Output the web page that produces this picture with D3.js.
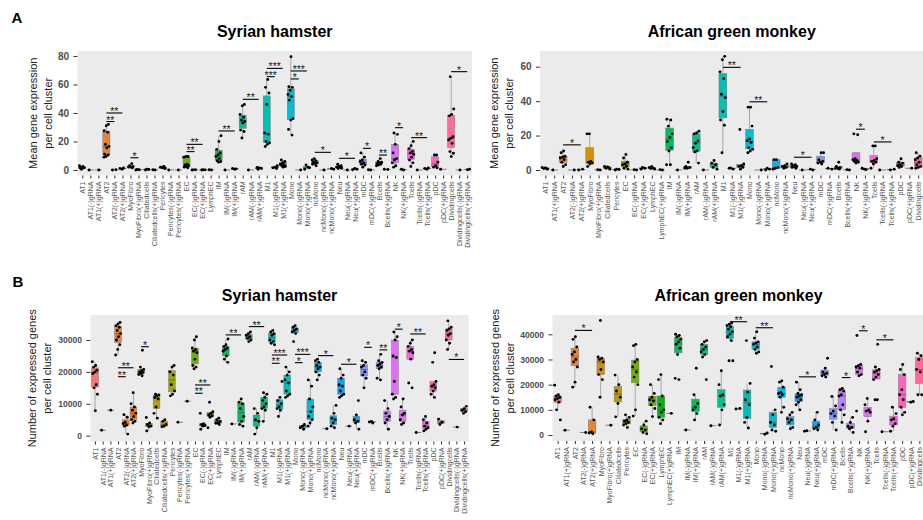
<!DOCTYPE html>
<html><head><meta charset="utf-8">
<script src="https://cdn.jsdelivr.net/npm/d3@7"></script>
<style>body{margin:0;background:#fff;} svg{display:block;font-family:"Liberation Sans",Arial,sans-serif;}</style>
</head><body><svg id="c" width="923" height="520"></svg>
<script>
// ---------------- DATA ----------------
const hamsterCats = ["AT1","AT1(-)gRNA","AT1(+)gRNA","AT2","AT2(-)gRNA","AT2(+)gRNA","MyoFibro","MyoFibro(+)gRNA","Ciliatedcells","Ciliatedcells(+)gRNA","Pericytes","Pericytes(-)gRNA","Pericytes(+)gRNA","EC","EC(-)gRNA","EC(+)gRNA","LymphEC","IM","IM(-)gRNA","IM(+)gRNA","rAM","rAM(-)gRNA","rAM(+)gRNA","M1","M1(-)gRNA","M1(+)gRNA","Mono","Mono(-)gRNA","Mono(+)gRNA","ncMono","ncMono(-)gRNA","ncMono(+)gRNA","Neu","Neu(-)gRNA","Neu(+)gRNA","mDC","mDC(+)gRNA","Bcells","Bcells(+)gRNA","NK","NK(+)gRNA","Tcells","Tcells(-)gRNA","Tcells(+)gRNA","pDC","pDC(+)gRNA","Dividingcells","Dividingcells(-)gRNA","Dividingcells(+)gRNA"];
const monkeyCats = ["AT1","AT1(+)gRNA","AT2","AT2(-)gRNA","AT2(+)gRNA","MyoFibro","MyoFibro(+)gRNA","Ciliatedcells","Pericytes","EC","EC(-)gRNA","EC(+)gRNA","LymphEC","LymphEC(+)gRNA","IM","IM(-)gRNA","IM(+)gRNA","rAM","rAM(-)gRNA","rAM(+)gRNA","M1","M1(-)gRNA","M1(+)gRNA","Mono","Mono(-)gRNA","Mono(+)gRNA","ncMono","ncMono(+)gRNA","Neu","Neu(-)gRNA","Neu(+)gRNA","mDC","mDC(+)gRNA","Bcells","Bcells(+)gRNA","NK","NK(+)gRNA","Tcells","Tcells(-)gRNA","Tcells(+)gRNA","pDC","pDC(+)gRNA","Dividingcells"];
const cellTypes = ["AT1","AT2","MyoFibro","Ciliatedcells","Pericytes","EC","LymphEC","IM","rAM","M1","Mono","ncMono","Neu","mDC","Bcells","NK","Tcells","pDC","Dividingcells"];

// Panel A: mean gene expression per cell cluster
const hamsterExpr = [
 [3,2.5,2,1.5,1,1.5,2,0.5],[0],[0],
 [32,31,27.5,26.5,18,16.5,15.5,11,10.5,9.5,9],[0,0.2],[0.5,1,1.5],
 [4.5,3,2.5,2,2,1.5],[0,0.2,0.4],[0,0.3,0.5],[0,0.2],
 [1,1.5,2,2.5,2,1.2],[0],[0],
 [9.5,9.5,9,4,3.5,3,2.5,2,1.5],[0,0.2,0.1],[0,0.1,0.2],[0,0.2],
 [24,20,14.5,12,10.5,9.5,8,6.5,6,5.5],[0],[0.5,1,0.8],
 [46,45,39,37,35,34,33,28,27,22.5],[0],[0.5,1,1.5,1.8],
 [63.5,58,54,46,26,25,20,19,18,16.5],[3,2,1.5,1],[7,6,5,4,3.5,3,2.5,2],
 [79.5,58.5,58,56,53,51.5,49,36,35,28.5,24.5],[0],[0.5,2,3.5,1.5],
 [8,7,6.5,5.5,5,4.5,4,3],[0],[0.5,1],
 [4,3,2.5,2,1.5,1,1.2],[0],[0.5,1,0.2],
 [12,9,7,6,5,4,3.5,2],[0,0.2],
 [8,6,5.5,5,4.5,4,3.5,3],[0.5,0.3],
 [26,25,18,12,8,7,5,3,2],[0,0.5],
 [20,17,15,13,12,11,9,7,5,2.5],[0],[0.5,1,1.5],
 [10.5,10.5,5.5,3,2,1.5],[0.5],
 [65.5,42.8,39,38,23.4,22.2,21,18.7,12.9,11.7,9.4],[0],[0.5,0.2]
];
const monkeyExpr = [
 [1.5,1,0.8,0.5,1.2],[0],
 [11,10,8,7.5,7,6,4.5,3,2],[0],[0,0.5],
 [21,21,5,4.5,4,3.5,2],[0,0.1],[2,1.5,1,0.5,1.8],[0,0.3,0.5],
 [9,7,4.5,3.5,3,2,1,0.5],[0,0.2],[0.5,1,1.5],[2,1.5,1,0.8,0.5],[0,0.2],
 [29.5,29,25.5,21,19,16.5,13,11,3,3],[0],[4.5,2,1.5,1,1],
 [22.5,21.5,21,17,15.5,13,11,10.5,4],[0],[5.5,4,3,1.5,0.5],
 [66,64,57,53,44,42,34,29,26,10],[1,0.5,1.2],[23.5,3.5,2.5,2,1.5,0.5],
 [36.5,36.5,25.5,18,17,16,13,12,11,10],[0],[0,0.5,1],
 [6,6,1.5,1,0.5],[3.5,2.5,2,1.5,1],
 [3.5,3,2.5,2,2,1.5,1],[0],[0,0.5],
 [10,10,6,5,4.5,4,3.5],[1,0.5],
 [4.5,2,1.5,1,0.8,0.5],[0,0.2],
 [21,20.5,6.5,6,5.5,5,4.5,4],[0.5,1,0.2],
 [14,14,6.5,5.5,5,4.5,3.5,1],[0],[0,0.5],
 [6.5,4.5,4,3,2.5,2,1.5],[1],
 [10,8,7,6,4.5,3,2,1.5,1]
];
// Panel B: number of expressed genes per cell cluster
const hamsterGenes = [
 [23200,22000,21500,20500,20000,19500,16000,15000,13000,7800],[1700],[8000],
 [35500,35000,34500,34000,33000,32000,31000,30000,28500,27000,25300],[6600,5800,4200,3800,3300,3000,500],[13500,10000,9000,8000,7000,6000,5000,4500,4000],
 [26800,21500,20800,20400,20000,19800,19500,19200,18800],[5700,4000,3500,3000,2800,1500],
 [13000,12800,12500,12000,11500,9000,7000,5500],[5000,4500,3500,3000,2800],
 [22000,21500,20000,19000,16000,14000,13000,12500],[4200],[10800],
 [31000,30000,27500,27000,26500,26000,24000,22000,21500,21000],[7000,3800,3500,3200,3000,2000],[10500,7500,7000,6500,6200,5800,2500],[5500,5000,4500,4000,3900,3500],
 [30300,28500,28000,27500,27000,26500,25000,24000,23000],[3700],[11500,10500,10000,8500,6000,4500,3500,3000],
 [32500,32000,31500,31000,30500,30000,29500],[8500,7000,5000,4500,2500,500],[13500,13000,12000,11000,10000,9000,8500,8000,4500],
 [33000,32500,32000,31500,30000,29500,29000,28500],[17000,12000,11000,10000,9000,8500,8000,6000],[21500,20000,19000,17500,16500,14000,13000,12500,12000],
 [34500,34000,33500,33000,32500,32000,29500],[3500,3000,2500,2000],[17500,15500,11500,9000,7500,6000,5000,4000,3000],
 [24000,23500,23000,22000,21500,21000,20000,19000,17500],[2200],[9500,7000,5500,5000,4000,3000,2500],
 [21000,19000,18000,16000,15500,14000,13000,12500,12000],[3000],[11000,6500,5000,4500,4000,2000],
 [23500,23000,22000,21500,20000,19000,18000,15000],[4500,4300,4000],
 [25500,23500,23000,22500,22000,21500,21000,18000,17500],[11000,8500,7000,6000,5000,4000,2000],
 [32500,31000,30000,25000,24500,17000,13000,12000,11500],[11500,9000,7000,6500,5000,4000,3500],
 [30000,29000,28000,27000,26500,26000,24000,16500,15000],[1000],[6000,5000,4000,3000,2500,2000,1500],
 [26000,23000,17000,16000,15500,15000,14000,13000,12000],[5200,4200,3500],
 [36000,34000,33500,33000,32000,31500,30000,29000,27000],[2700],[9200,8500,8000,7500,7000]
];
const monkeyGenes = [
 [19800,16000,15500,15000,14500,14000,13000,10000,6000],[1900],
 [39000,38000,35000,33000,32000,30000,29000,27000,21000,19000],[1000],[11000,6000,1200,800,500],
 [45500,31000,30500,30000,29000,26000,24000,22000,15000],[3900],[23800,20000,17500,15000,12500,7200],[8000,7000,6000,5500,5000,4500,4000,3000],
 [36000,35500,30000,29000,27000,25000,23000,20000,10000,7500],[5500,4000,2500,2000,1000,500],[20000,16500,15000,14000,13500,12000,10500,7300],
 [24000,22000,15500,12000,10000,9000,7000,6000,4500],[8600],
 [40000,39500,39000,38000,37000,36000,34500,32000,22500,22000],[2000],[26500,16000,12500,11000,10000,8500,6000],
 [37500,37000,36000,35000,34000,33000,32000,31000,22000],[3700],[25500,20000,16000,15500,12000,10000,4000],
 [44500,44000,43500,43000,42000,41000,40000,39000,37500,29500,29500],[10300,10500],[37500,20500,17000,14000,12000,7000,5000,2800],
 [41000,38500,37000,36500,36000,35000,34000,33000,32500],[800,300],[27200,10000,8000,5000,4000,2000,1500],
 [21500,21000,19000,17000,16500,16000,15000,11000,9000],[9000,8000,6500,6000,5000,3000,2500],
 [21000,18000,16500,16000,15500,15000,14000,13000,12000,10000],[1700,1500],[9000,6000,4000,3000,2500,2000],
 [30500,26500,25000,24500,24000,23500,23000],[15300,11500,9500,8500,7500,5000,2000],
 [18500,18000,17500,16000,15500,12000,10000,8000,5000],[7000,5000,3500,3000,2500,1000],
 [39500,28000,27500,27000,26500,25000,24000,23500,9500],[14500,12000,10000,9500,9000,5500,1300],
 [36000,27000,26000,25500,25000,24000,23000,22000,14000,14000],[1300],[11000,8500,6500,6000,4500,3500,1500],
 [28000,26000,24000,18000,16000,14000,11000,9000,8000],[13300,13000],
 [32500,31500,30000,26000,25000,16000,16000]
];
// significance brackets: [group1, group2, height, label]
const hamsterExprSig = [
 ["AT2","AT2(-)gRNA",34,"**"],["AT2","AT2(+)gRNA",40,"**"],["MyoFibro","MyoFibro(+)gRNA",8.6,"*"],
 ["EC","EC(-)gRNA",12.9,"**"],["EC","EC(+)gRNA",18,"**"],["IM","IM(+)gRNA",27.4,"**"],
 ["rAM","rAM(+)gRNA",49.6,"**"],["M1","M1(-)gRNA",65.5,"***"],["M1","M1(+)gRNA",71.3,"***"],
 ["Mono","Mono(-)gRNA",63.9,"*"],["Mono","Mono(+)gRNA",69.5,"***"],["ncMono","ncMono(+)gRNA",12.4,"*"],
 ["Neu","Neu(+)gRNA",8.2,"*"],["mDC","mDC(+)gRNA",15.2,"*"],["Bcells","Bcells(+)gRNA",10.5,"**"],
 ["NK","NK(+)gRNA",29.7,"*"],["Tcells","Tcells(+)gRNA",22.7,"**"],["Dividingcells","Dividingcells(+)gRNA",69,"*"]
];
const monkeyExprSig = [
 ["AT2","AT2(+)gRNA",14.6,"*"],["M1","M1(+)gRNA",59.6,"**"],["Mono","Mono(+)gRNA",39.6,"**"],
 ["Neu","Neu(+)gRNA",7.4,"*"],["NK","NK(+)gRNA",23.7,"*"],["Tcells","Tcells(+)gRNA",16.3,"*"]
];
const hamsterGenesSig = [
 ["AT2","AT2(-)gRNA",18500,"**"],["AT2","AT2(+)gRNA",21300,"**"],["MyoFibro","MyoFibro(+)gRNA",27900,"*"],
 ["EC","EC(-)gRNA",13300,"**"],["EC","EC(+)gRNA",15900,"**"],["IM","IM(+)gRNA",31600,"**"],
 ["rAM","rAM(+)gRNA",34200,"**"],["M1","M1(-)gRNA",22700,"**"],["M1","M1(+)gRNA",25300,"***"],
 ["Mono","Mono(-)gRNA",22900,"*"],["Mono","Mono(+)gRNA",25500,"***"],["ncMono","ncMono(+)gRNA",25100,"*"],
 ["Neu","Neu(+)gRNA",22400,"*"],["mDC","mDC(+)gRNA",27700,"*"],["Bcells","Bcells(+)gRNA",26900,"**"],
 ["NK","NK(+)gRNA",33400,"*"],["Tcells","Tcells(+)gRNA",31900,"**"],["Dividingcells","Dividingcells(+)gRNA",23900,"*"]
];
const monkeyGenesSig = [
 ["AT2","AT2(+)gRNA",41550,"*"],["M1","M1(+)gRNA",45000,"**"],["Mono","Mono(+)gRNA",42600,"**"],
 ["Neu","Neu(+)gRNA",23100,"*"],["Bcells","Bcells(+)gRNA",22800,"*"],["NK","NK(+)gRNA",41400,"*"],
 ["Tcells","Tcells(+)gRNA",37800,"*"]
];
const exprTicksHamster = [0,20,40,60,80];
const exprTicksMonkey = [0,20,40,60];
const genesTicksHamster = [0,10000,20000,30000];
const genesTicksMonkey = [0,10000,20000,30000,40000];
const panelTitles = ["Syrian hamster","African green monkey"];
const exprYTitle = ["Mean gene expression","per cell cluster"];
const genesYTitle = ["Number of expressed genes","per cell cluster"];

// ---------------- COLORS (ggplot hue palette, polar LUV) ----------------
function hueColor(h, c = 100, l = 65) {
  const hr = h * Math.PI / 180, U = c * Math.cos(hr), V = c * Math.sin(hr);
  const Y = Math.pow((l + 16) / 116, 3);
  const Xn = 0.95047, Yn = 1, Zn = 1.08883, den = Xn + 15 * Yn + 3 * Zn;
  const un = 4 * Xn / den, vn = 9 * Yn / den;
  const u = U / (13 * l) + un, v = V / (13 * l) + vn;
  const X = Y * 9 * u / (4 * v), Z = Y * (12 - 3 * u - 20 * v) / (4 * v);
  const lin = [3.2404542 * X - 1.5371385 * Y - 0.4985314 * Z,
    -0.9692660 * X + 1.8760108 * Y + 0.0415560 * Z,
    0.0556434 * X - 0.2040259 * Y + 1.0572252 * Z];
  const g = lin.map(x => { const s = x <= 0.0031308 ? 12.92 * x : 1.055 * Math.pow(x, 1 / 2.4) - 0.055; return Math.round(255 * Math.max(0, Math.min(1, s))); });
  return d3.rgb(g[0], g[1], g[2]).formatHex();
}
const colorScale = d3.scaleOrdinal().domain(cellTypes)
  .range(cellTypes.map((t, i) => hueColor(15 + i * 360 / cellTypes.length)));
const baseOf = c => c.replace(/\([+-]\)gRNA$/, "");

// ---------------- DRAW ----------------
const svg = d3.select("#c");

function panel(p) {
  const g = svg.append("g");
  g.append("rect").attr("x", p.x0).attr("y", p.yTop).attr("width", p.x1 - p.x0).attr("height", p.yBottom - p.yTop).attr("fill", "#EBEBEB");
  const x = d3.scalePoint().domain(p.cats).range([p.x0, p.x1]).padding(0.6);
  const y = d3.scaleLinear().domain(p.yDomain).range([p.yBottom, p.yTop]);
  const step = x.step(), bw = step * 0.88;

  // y axis
  const ya = g.append("g").attr("transform", `translate(${p.x0},0)`)
    .call(d3.axisLeft(y).tickValues(p.ticks).tickSize(4).tickPadding(4.5).tickFormat(d3.format("d")));
  ya.select(".domain").remove();
  ya.selectAll("line").attr("stroke", "#333");
  ya.selectAll("text").attr("fill", "#4d4d4d").style("font-size", p.tickFont + "px").style("font-weight", "bold").style("font-family", "'Liberation Sans',Arial,sans-serif");

  // x axis
  const xa = g.append("g").attr("transform", `translate(0,${p.yBottom})`)
    .call(d3.axisBottom(x).tickSize(3).tickPadding(3));
  xa.select(".domain").remove();
  xa.selectAll("line").attr("stroke", "#333");
  xa.selectAll("text").attr("fill", "#555").style("font-size", "7px").style("font-family", "'Liberation Sans',Arial,sans-serif")
    .attr("transform", "rotate(-90)").attr("x", -6).attr("y", 0).attr("dy", "0.33em").style("text-anchor", "end");

  // boxes
  p.cats.forEach((cat, i) => {
    const vals = p.values[i].slice().sort(d3.ascending);
    const cx = x(cat), col = colorScale(baseOf(cat));
    const q1 = d3.quantile(vals, 0.25), md = d3.quantile(vals, 0.5), q3 = d3.quantile(vals, 0.75);
    const iqr = q3 - q1;
    const lo = d3.min(vals.filter(v => v >= q1 - 1.5 * iqr)), hi = d3.max(vals.filter(v => v <= q3 + 1.5 * iqr));
    g.append("line").attr("x1", cx).attr("x2", cx).attr("y1", y(hi)).attr("y2", y(q3)).attr("stroke", "#8a8a8a").attr("stroke-width", 0.7);
    g.append("line").attr("x1", cx).attr("x2", cx).attr("y1", y(q1)).attr("y2", y(lo)).attr("stroke", "#8a8a8a").attr("stroke-width", 0.7);
    if (y(q1) - y(q3) > 0.3) {
      g.append("rect").attr("x", cx - bw / 2).attr("y", y(q3)).attr("width", bw).attr("height", y(q1) - y(q3))
        .attr("fill", col).attr("stroke", "#7a7a7a").attr("stroke-width", 0.5);
    }
    g.append("line").attr("x1", cx - bw / 2).attr("x2", cx + bw / 2).attr("y1", y(md)).attr("y2", y(md)).attr("stroke", "#555").attr("stroke-width", 0.7);
    // jittered points (deterministic spread)
    p.values[i].forEach((v, k) => {
      const off = (((k * 0.618034 + i * 0.29) % 1) - 0.5) * step * 0.7;
      g.append("circle").attr("cx", cx + off).attr("cy", y(v)).attr("r", 1.45).attr("fill", "#000");
    });
  });

  // significance
  p.sig.forEach(([a, b, h, lab]) => {
    const yy = y(h);
    g.append("line").attr("x1", x(a)).attr("x2", x(b)).attr("y1", yy).attr("y2", yy).attr("stroke", "#000").attr("stroke-width", 1.1);
    g.append("text").attr("x", (x(a) + x(b)) / 2).attr("y", yy + 2).attr("text-anchor", "middle")
      .style("font-size", "10.5px").attr("fill", "#222").text(lab);
  });

  // titles
  svg.append("text").attr("x", (p.x0 + p.x1) / 2).attr("y", p.titleY).attr("text-anchor", "middle")
    .style("font-size", "16px").style("font-weight", "bold").attr("fill", "#000").text(p.title);
  const ty = (p.yTop + p.yBottom) / 2;
  const t = svg.append("text").attr("transform", `translate(${p.yTitleX},${ty}) rotate(-90)`).attr("text-anchor", "middle")
    .style("font-size", "11px").attr("fill", "#222");
  t.append("tspan").attr("x", 0).attr("y", 0).text(p.yTitle[0]);
  t.append("tspan").attr("x", 0).attr("y", 14.5).text(p.yTitle[1]);
}

panel({cats: hamsterCats, values: hamsterExpr, sig: hamsterExprSig, ticks: exprTicksHamster,
  x0: 77.5, x1: 472, yTop: 51, yBottom: 175.5, yDomain: [-3.86, 83.5], tickFont: 10,
  title: panelTitles[0], titleY: 36.7, yTitle: exprYTitle, yTitleX: 37});
panel({cats: monkeyCats, values: monkeyExpr, sig: monkeyExprSig, ticks: exprTicksMonkey,
  x0: 540, x1: 923.5, yTop: 51, yBottom: 175.5, yDomain: [-3.2, 69.1], tickFont: 10,
  title: panelTitles[1], titleY: 36.7, yTitle: exprYTitle, yTitleX: 498});
panel({cats: hamsterCats, values: hamsterGenes, sig: hamsterGenesSig, ticks: genesTicksHamster,
  x0: 90.4, x1: 468.7, yTop: 315, yBottom: 441.5, yDomain: [-1818, 37837], tickFont: 8.5,
  title: panelTitles[0], titleY: 301, yTitle: genesYTitle, yTitleX: 36});
panel({cats: monkeyCats, values: monkeyGenes, sig: monkeyGenesSig, ticks: genesTicksMonkey,
  x0: 552.5, x1: 924.5, yTop: 315, yBottom: 441, yDomain: [-2383, 47666], tickFont: 8.5,
  title: panelTitles[1], titleY: 301, yTitle: genesYTitle, yTitleX: 499});

svg.append("text").attr("x", 11.5).attr("y", 22.5).style("font-size", "15px").style("font-weight", "bold").text("A");
svg.append("text").attr("x", 12.5).attr("y", 286.7).style("font-size", "15px").style("font-weight", "bold").text("B");
</script></body></html>
